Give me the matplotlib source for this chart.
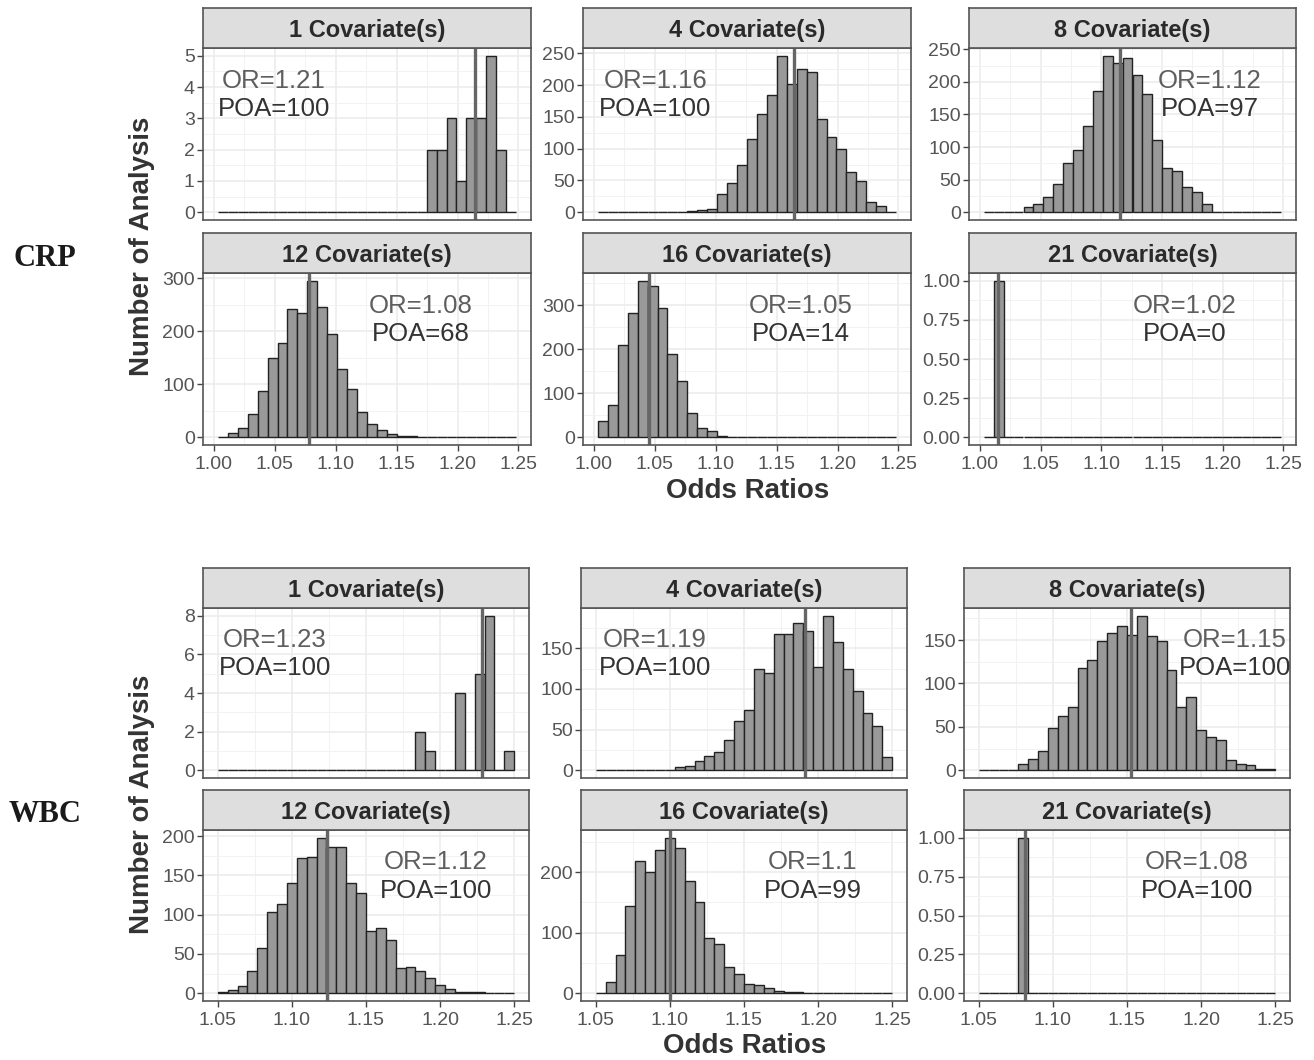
import matplotlib
matplotlib.use('Agg')
import matplotlib.pyplot as plt
from matplotlib.ticker import MultipleLocator, AutoMinorLocator

plt.rcParams['font.family'] = ['Liberation Sans', 'DejaVu Sans']

W, H = 1314, 1060

covariates = [1, 4, 8, 12, 16, 21]

# --- CRP histograms (30 bins, shared x range) ---
crp_bin_start = 1.0033
crp_bin_width = 0.00816
crp_counts_1 = [0, 0, 0, 0, 0, 0, 0, 0, 0, 0, 0, 0, 0, 0, 0, 0, 0, 0, 0, 0, 0,
                2, 2, 3, 1, 3, 3, 5, 2, 0]
crp_counts_4 = [0, 0, 0, 0, 0, 0, 0, 0, 0, 2, 4, 5, 29, 46, 74, 115, 155, 184,
                246, 201, 225, 220, 146, 119, 100, 64, 49, 16, 9, 0]
crp_counts_8 = [0, 0, 0, 1, 8, 13, 23, 43, 75, 95, 133, 186, 240, 229, 236, 210,
                181, 111, 68, 63, 38, 31, 13, 1, 0, 0, 0, 0, 0, 0]
crp_counts_12 = [0, 8, 18, 43, 87, 149, 177, 241, 235, 295, 245, 195, 129, 91, 47,
                 24, 13, 6, 3, 3, 0, 0, 0, 0, 0, 0, 0, 0, 0, 0]
crp_counts_16 = [36, 73, 210, 282, 356, 345, 293, 189, 127, 55, 21, 14, 3, 1, 0,
                 0, 0, 0, 0, 0, 0, 0, 0, 0, 0, 0, 0, 0, 0, 0]
crp_counts_21 = [0, 1, 0, 0, 0, 0, 0, 0, 0, 0, 0, 0, 0, 0, 0, 0, 0, 0, 0, 0, 0,
                 0, 0, 0, 0, 0, 0, 0, 0, 0]
crp_or_line = [1.2145, 1.164, 1.115, 1.078, 1.045, 1.015]
crp_or_text = ['1.21', '1.16', '1.12', '1.08', '1.05', '1.02']
crp_poa = [100, 100, 97, 68, 14, 0]
crp_xticks = [1.00, 1.05, 1.10, 1.15, 1.20, 1.25]
crp_ysteps = [1, 50, 50, 100, 100, 0.25]

# --- WBC histograms ---
wbc_bin_start = 1.05
wbc_bin_width = 0.006667
wbc_counts_1 = [0, 0, 0, 0, 0, 0, 0, 0, 0, 0, 0, 0, 0, 0, 0, 0, 0, 0, 0, 0,
                2, 1, 0, 0, 4, 0, 5, 8, 0, 1]
wbc_counts_4 = [0, 0, 0, 0, 0, 0, 0, 0, 4, 5, 12, 18, 23, 37, 60, 74, 125, 120,
                167, 168, 181, 171, 127, 190, 158, 125, 98, 70, 55, 16]
wbc_counts_8 = [0, 0, 0, 0, 7, 13, 22, 49, 62, 73, 118, 127, 149, 158, 166, 156,
                178, 155, 149, 115, 73, 84, 46, 38, 35, 12, 7, 6, 2, 2]
wbc_counts_12 = [2, 4, 9, 28, 58, 103, 114, 141, 172, 174, 198, 186, 186, 140, 128,
                 79, 83, 68, 32, 33, 28, 19, 11, 6, 2, 1, 1, 0, 0, 0]
wbc_counts_16 = [0, 19, 63, 145, 219, 200, 236, 257, 240, 185, 150, 91, 81, 43, 31,
                 15, 13, 9, 3, 2, 2, 1, 0, 0, 0, 0, 0, 0, 0, 0]
wbc_counts_21 = [0, 0, 0, 0, 1, 0, 0, 0, 0, 0, 0, 0, 0, 0, 0, 0, 0, 0, 0, 0, 0,
                 0, 0, 0, 0, 0, 0, 0, 0, 0]
wbc_or_line = [1.2286, 1.191, 1.1525, 1.124, 1.0998, 1.081]
wbc_or_text = ['1.23', '1.19', '1.15', '1.12', '1.1', '1.08']
wbc_poa = [100, 100, 100, 100, 99, 100]
wbc_xticks = [1.05, 1.10, 1.15, 1.20, 1.25]
wbc_ysteps = [2, 50, 50, 50, 100, 0.25]

# --- layout in pixels ---
crp_cols = [(203, 531), (583, 911), (969, 1296)]
crp_rows = [(8, 48, 220), (233, 273, 445)]
crp_text_x = [0.216, 0.22, 0.737, 0.665, 0.665, 0.66]
wbc_cols = [(203, 529), (581, 907), (964, 1290)]
wbc_rows = [(568, 608, 778), (790, 830, 1001)]
wbc_text_x = [0.22, 0.227, 0.83, 0.715, 0.71, 0.715]

fig = plt.figure(figsize=(W / 100, H / 100), dpi=100)


def px_rect(x0, x1, y0, y1):
    return [x0 / W, 1 - y1 / H, (x1 - x0) / W, (y1 - y0) / H]


def draw_group(cols, rows, counts_list, bin_start, bin_width, or_line, or_text,
               poa, xticks, ysteps, text_x):
    lo = bin_start
    hi = bin_start + 30 * bin_width
    pad = 0.05 * (hi - lo)
    for k, counts in enumerate(counts_list):
        r, c = divmod(k, 3)
        cx0, cx1 = cols[c]
        stop, ptop, pbot = rows[r]

        ax = fig.add_axes(px_rect(cx0, cx1, ptop, pbot))
        centers = [bin_start + (i + 0.5) * bin_width for i in range(len(counts))]
        ax.bar(centers, counts, width=bin_width, color='#999999',
               edgecolor='#222222', linewidth=1.0, zorder=2)
        ax.axvline(or_line[k], color='#666666', lw=2.4, zorder=3)

        ymax = max(counts)
        ax.set_ylim(-0.05 * ymax, 1.05 * ymax)
        ax.set_xlim(lo - pad, hi + pad)
        ax.set_xticks(xticks)
        ax.xaxis.set_minor_locator(AutoMinorLocator(2))
        ax.yaxis.set_major_locator(MultipleLocator(ysteps[k]))
        ax.yaxis.set_minor_locator(AutoMinorLocator(2))
        if ysteps[k] < 1:
            ax.yaxis.set_major_formatter(lambda v, p: f'{v:.2f}')
        else:
            ax.yaxis.set_major_formatter(lambda v, p: f'{v:.0f}')
        ax.xaxis.set_major_formatter(lambda v, p: f'{v:.2f}')

        ax.set_axisbelow(True)
        ax.grid(which='major', color='#EBEBEB', lw=1.1, zorder=0)
        ax.grid(which='minor', color='#F2F2F2', lw=0.7, zorder=0)
        for s in ax.spines.values():
            s.set_color('#555555')
            s.set_linewidth(1.2)
            s.set_zorder(4)
        ax.tick_params(axis='both', which='minor', length=0)
        ax.tick_params(axis='y', which='major', length=4, width=1, color='#444444',
                       labelsize=14, labelcolor='#555555', pad=2)
        if r == 0:
            ax.tick_params(axis='x', which='major', length=0, labelbottom=False)
        else:
            ax.tick_params(axis='x', which='major', length=4, width=1,
                           color='#444444', labelsize=14, labelcolor='#555555',
                           pad=4)

        ax.text(text_x[k], 0.81, f'OR={or_text[k]}', transform=ax.transAxes,
                ha='center', va='center', fontsize=18.5, color='#5E5E5E', zorder=5)
        ax.text(text_x[k], 0.645, f'POA={poa[k]}', transform=ax.transAxes,
                ha='center', va='center', fontsize=18.5, color='#333333', zorder=5)

        sax = fig.add_axes(px_rect(cx0, cx1, stop, ptop))
        sax.set_facecolor('#DEDEDE')
        sax.set_xticks([])
        sax.set_yticks([])
        for s in sax.spines.values():
            s.set_color('#555555')
            s.set_linewidth(1.2)
        sax.text(0.5, 0.44, f'{covariates[k]} Covariate(s)', transform=sax.transAxes,
                 ha='center', va='center', fontsize=17, fontweight='bold',
                 color='#2A2A2A')


draw_group(crp_cols, crp_rows,
           [crp_counts_1, crp_counts_4, crp_counts_8, crp_counts_12,
            crp_counts_16, crp_counts_21],
           crp_bin_start, crp_bin_width, crp_or_line, crp_or_text, crp_poa,
           crp_xticks, crp_ysteps, crp_text_x)
draw_group(wbc_cols, wbc_rows,
           [wbc_counts_1, wbc_counts_4, wbc_counts_8, wbc_counts_12,
            wbc_counts_16, wbc_counts_21],
           wbc_bin_start, wbc_bin_width, wbc_or_line, wbc_or_text, wbc_poa,
           wbc_xticks, wbc_ysteps, wbc_text_x)

# axis titles and group labels
title_kw = dict(ha='center', va='center', fontsize=20, fontweight='bold',
                color='#333333')
fig.text(748 / W, 1 - 491 / H, 'Odds Ratios', **title_kw)
fig.text(745 / W, 1 - 1046 / H, 'Odds Ratios', **title_kw)
fig.text(142 / W, 1 - 246 / H, 'Number of Analysis', rotation=90, **title_kw)
fig.text(142 / W, 1 - 804 / H, 'Number of Analysis', rotation=90, **title_kw)

grp_kw = dict(ha='center', va='center', fontsize=22, fontweight='bold',
              color='#1A1A1A', family=['Liberation Serif', 'DejaVu Serif'])
fig.text(45 / W, 1 - 258 / H, 'CRP', **grp_kw)
fig.text(45 / W, 1 - 815 / H, 'WBC', **grp_kw)

fig.savefig('out.png', dpi=100, facecolor='white')
